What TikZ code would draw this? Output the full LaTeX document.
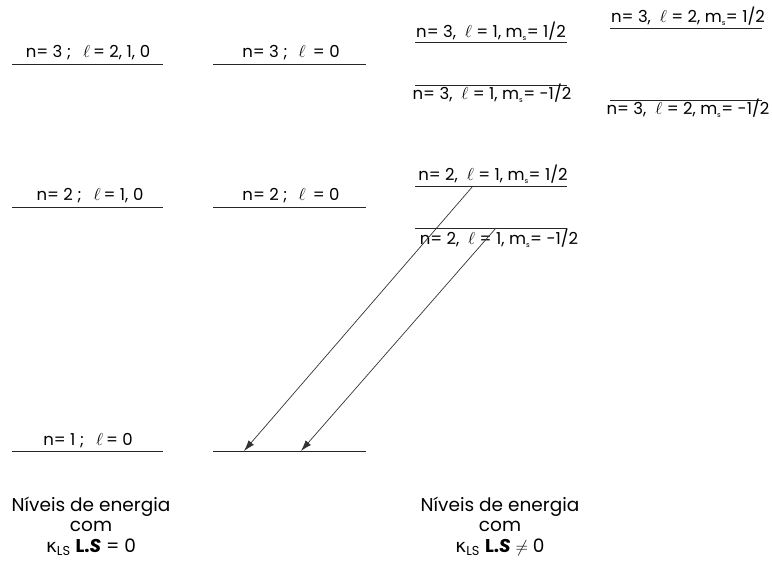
\documentclass[tikz,border=0pt]{standalone}
\usepackage{fontspec}
\setmainfont{Poppins}
\newfontfamily\greekfont{DejaVu Sans}
\usetikzlibrary{arrows.meta}
\begin{document}
\begin{tikzpicture}[x=1pt,y=-1pt,
  lvl/.style={line width=0.9pt,draw=black!85},
  lab/.style={anchor=base,inner sep=0pt,font=\fontsize{16.5}{18}\selectfont},
  captext/.style={align=center,inner sep=0pt,font=\fontsize{18.5}{21}\selectfont},
  trans/.style={line width=0.7pt,draw=black!80,-{Latex[length=11pt,width=7pt]}}]
\useasboundingbox (0,0) rectangle (772,564);
\newcommand{\ms}{m\textsubscript{\scriptsize s}}
\newcommand{\kap}{{\greekfont κ}\textsubscript{LS}}
% left column
\coordinate (a3l) at (12,64);  \coordinate (a3r) at (163,64);
\coordinate (a2l) at (12,207); \coordinate (a2r) at (163,207);
\coordinate (a1l) at (12,451); \coordinate (a1r) at (163,451);
\draw[lvl] (a3l) -- (a3r); \draw[lvl] (a2l) -- (a2r); \draw[lvl] (a1l) -- (a1r);
\node[lab] (ta3) at (88,58) {n= 3 ;\hspace{12pt}$\ell$\,= 2,\;1,\;0};
\node[lab] (ta2) at (90,201) {n= 2 ;\hspace{12pt}$\ell$\,= 1,\;0};
\node[lab] (ta1) at (88,445) {n= 1 ;\hspace{12pt}$\ell$\,= 0};
% middle column
\coordinate (b3l) at (213,64);  \coordinate (b3r) at (366,64);
\coordinate (b2l) at (213,207); \coordinate (b2r) at (366,207);
\coordinate (b1l) at (213,451); \coordinate (b1r) at (366,451);
\draw[lvl] (b3l) -- (b3r); \draw[lvl] (b2l) -- (b2r); \draw[lvl] (b1l) -- (b1r);
\node[lab] (tb3) at (291,58) {n= 3 ;\hspace{11pt}$\ell$\ \,= 0};
\node[lab] (tb2) at (291,201) {n= 2 ;\hspace{11pt}$\ell$\ \,= 0};
% right column, l=1
\coordinate (c3pl) at (415,42);  \coordinate (c3pr) at (567,42);
\coordinate (c3ml) at (415,85);  \coordinate (c3mr) at (567,85);
\coordinate (c2pl) at (415,186); \coordinate (c2pr) at (567,186);
\coordinate (c2ml) at (415,228); \coordinate (c2mr) at (567,228);
\draw[lvl] (c3pl) -- (c3pr); \draw[lvl] (c3ml) -- (c3mr);
\draw[lvl] (c2pl) -- (c2pr); \draw[lvl] (c2ml) -- (c2mr);
\node[lab] (tc3p) at (491,38)  {n= 3,\ \ $\ell$ = 1, \ms= 1/2};
\node[lab] (tc3m) at (492,100) {n= 3,\ \ $\ell$ = 1, \ms= -1/2};
\node[lab] (tc2p) at (493,181) {n= 2,\ \ $\ell$ = 1, \ms= 1/2};
\node[lab] (tc2m) at (499,245) {n= 2,\ \ $\ell$ = 1, \ms= -1/2};
% right column, l=2
\coordinate (d3pl) at (610,28);  \coordinate (d3pr) at (762,28);
\coordinate (d3ml) at (610,100); \coordinate (d3mr) at (762,100);
\draw[lvl] (d3pl) -- (d3pr); \draw[lvl] (d3ml) -- (d3mr);
\node[lab] (td3p) at (688,23)  {n= 3,\ \ $\ell$ = 2, \ms= 1/2};
\node[lab] (td3m) at (688,115) {n= 3,\ \ $\ell$ = 2, \ms= -1/2};
% transitions
\coordinate (s1) at (473,186); \coordinate (e1) at (244,451);
\coordinate (s2) at (496,228); \coordinate (e2) at (301,451);
\draw[trans] (s1) -- (e1);
\draw[trans] (s2) -- (e2);
% captions
\node[captext,anchor=base] (capL1) at (91,511) {Níveis de energia};
\node[captext,anchor=base] (capL2) at (91,531) {com};
\node[captext,anchor=base] (capL3) at (91,552) {\kap\ \textbf{L.}\textbf{\textit{S}} = 0};
\node[captext,anchor=base] (capR1) at (500,511) {Níveis de energia};
\node[captext,anchor=base] (capR2) at (500,531) {com};
\node[captext,anchor=base] (capR3) at (500,552) {\kap\ \textbf{L.}\textbf{\textit{S}} $\neq$ 0};
\end{tikzpicture}
\end{document}
